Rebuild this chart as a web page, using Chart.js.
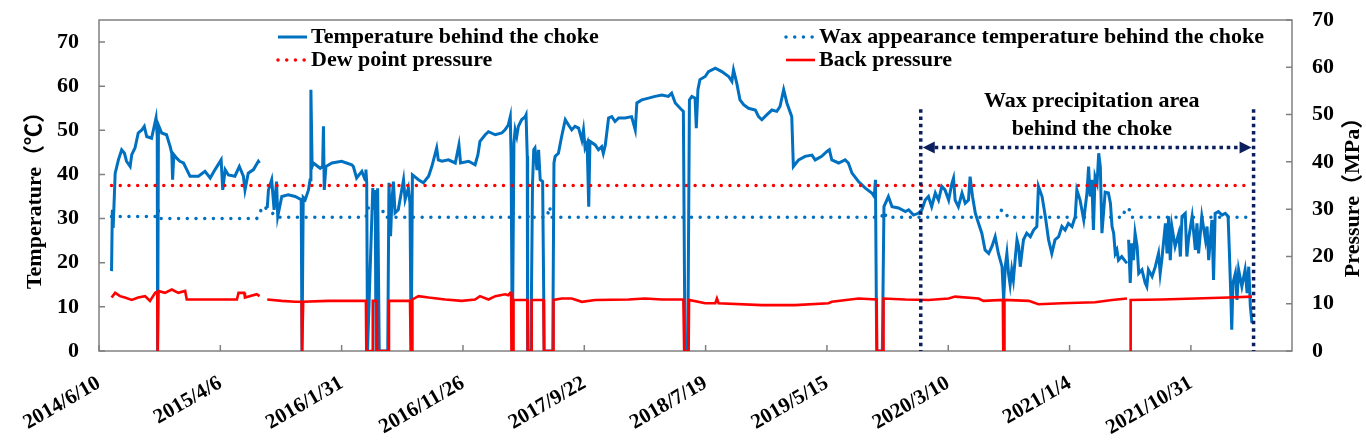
<!DOCTYPE html>
<html>
<head>
<meta charset="utf-8">
<script src="https://cdn.jsdelivr.net/npm/chart.js@4.4.0/dist/chart.umd.min.js"></script>
<style>
  html, body { margin: 0; padding: 0; background: #fff; }
  #wrap { width: 1366px; height: 448px; }
</style>
</head>
<body>
<div id="wrap"><canvas id="chart" width="1366" height="448"></canvas></div>
<script>
// x values are days after 2014/6/10 (start of the date axis)
const START = Date.UTC(2014, 5, 10);

const tempDays = [31,33,35,40,44,48,56,63,68,77,81,89,97,106,112,118,130,141,144,145,147,155,167,176,180,182,185,192,200,209,217,225,246,262,275,287,302,306,312,320,336,347,357,361,369,382,394,397,406,
  416,419,427,433,439,442,452,468,485,500,502,505,510,518,522,524,527,530,547,553,555,557,561,576,600,625,629,637,650,658,660,662,664,677,680,683,685,689,693,714,717,721,724,728,732,740,753,757,765,769,772,775,790,802,815,823,835,839,848,864,881,890,894,914,930,937,942,955,963,980,
  996,1004,1012,1017,1019,1022,1026,1029,1033,1037,1045,1054,1056,1059,1060,1068,1072,1075,1078,1083,1087,1091,1097,1101,1122,1125,1128,1136,1144,1153,1161,1169,1177,1186,1194,1198,1202,1207,1211,1214,1227,1235,1243,1247,1252,1260,1268,1276,1285,1301,1317,1326,1330,1342,1359,1375,1392,1408,1416,1425,1437,1445,1449,1456,1460,1466,1474,1477,1481,1486,1499,
  1507,1524,1540,1557,1565,1569,1577,1585,1594,1606,1623,1631,1639,1651,1664,1676,1684,1693,1701,1713,1717,1730,1746,1763,1771,1787,1800,1806,1812,1829,1845,1853,1862,1878,1895,1911,1917,1920,1923,1937,1941,1952,1961,1977,1994,
  2002,2014,2026,2035,2043,2051,2059,2068,2076,2084,2092,2101,2109,2113,2117,2125,2134,2142,2150,2154,2160,2167,2175,2183,2191,2200,2208,2216,2224,2233,2237,2241,2245,2249,2253,2257,2261,2266,2270,2274,2278,2286,2294,2303,2311,2319,2323,2332,2340,2348,2356,2364,2373,2381,2389,2397,2406,2414,2418,2426,2435,2443,2447,2451,2455,2459,2463,2468,2472,2476,2480,2488,
  2496,2501,2505,2509,2513,2517,2521,2529,2538,2542,2544,2546,2550,2554,2558,2562,2567,2571,2579,2587,2591,2595,2604,2612,2620,2624,2628,2637,2641,2645,2649,2653,2661,2670,2674,2678,2686,2690,2694,2703,2711,2715,2719,2727,2736,2740,2744,2752,2756,2760,2768,2777,2785,2792,2795,2799,2801,2804,2810,2814,2818,2826,2834,2839,2843,2847,2851];
const tempValues = [18.1,32.0,27.9,40.3,41.8,43.3,45.6,44.8,43.0,41.8,44.5,46.0,49.4,50.1,50.9,48.6,48.2,52.8,48.6,0,51.2,49.4,49.0,46.3,44.8,38.8,44.5,43.7,43.0,42.6,41.1,39.6,39.6,40.7,39.2,41.1,43.3,36.5,41.1,39.9,39.6,41.8,39.6,36.5,40.3,41.1,43.0,42.6,null,
  32.4,36.5,38.8,32.0,38.4,30.5,35.0,35.4,35.0,34.3,0,34.8,34.3,36.5,38.8,59.2,41.8,42.6,41.4,41.8,50.9,36.5,41.8,42.6,43.0,42.2,41.8,39.2,40.7,38.8,41.1,38.1,0,36.9,32.0,36.5,0,36.9,0,0,38.1,26.0,33.5,38.4,31.3,32.0,38.8,34.3,36.9,33.5,0,39.9,38.8,38.1,39.6,41.8,46.0,43.3,43.0,43.3,42.6,46.7,42.6,43.0,42.2,44.5,47.5,49.0,49.7,49.0,
  49.4,50.1,51.2,53.1,44.1,0,47.1,50.1,48.6,50.9,52.4,53.1,53.5,44.1,0,0,38.0,45.6,46.0,41.0,45.6,38.8,38.4,0,0,42.6,44.1,44.8,48.6,52.4,51.2,50.1,50.9,50.5,47.8,50.1,46.0,47.1,32.7,47.5,46.7,45.6,46.3,44.8,46.7,52.8,53.1,52.0,52.8,52.8,53.1,50.1,56.2,56.9,57.3,57.7,58.0,57.7,58.4,56.2,55.0,54.3,0,0,56.9,57.7,57.3,50.5,59.2,61.5,62.2,
  63.3,64.1,63.3,62.2,61.1,63.7,60.7,56.9,55.8,55.0,54.6,53.1,52.4,53.5,54.6,54.3,55.4,59.2,56.2,53.1,41.8,43.3,44.1,44.4,43.3,44.1,45.2,45.6,43.3,42.6,43.3,42.6,40.3,38.4,36.9,35.8,35.0,38.8,0,0,32.7,35.0,32.7,32.4,31.6,
  32.0,30.8,31.2,32.0,34.2,35.0,32.7,35.8,34.2,37.3,36.5,34.2,38.0,39.2,34.2,32.7,35.8,33.5,34.2,39.5,35.0,31.2,28.9,26.7,22.9,22.1,23.7,25.9,22.1,19.1,11.6,19.1,22.1,17.6,15.0,18.4,16.1,21.4,25.2,23.7,19.1,25.2,26.7,25.9,27.4,28.2,37.3,35.0,30.5,25.2,22.1,25.2,25.9,28.2,27.4,28.9,28.2,30.5,36.5,34.2,29.7,35.8,41.8,35.0,38.8,27.4,39.5,38.0,44.8,41.8,26.7,36.0,
  35.8,33.5,28.2,26.7,22.1,22.9,20.6,21.4,20.3,19.9,null,25.2,15.4,24.4,20.6,26.7,23.7,17.6,18.4,15.4,14.6,18.4,16.9,19.1,22.1,17.6,20.6,28.9,22.1,30.5,20.6,28.2,23.7,26.7,21.4,30.5,31.2,21.4,25.2,30.5,22.9,28.9,22.1,30.5,25.2,28.2,20.6,29.7,16.1,31.2,31.6,30.8,31.2,30.5,22.9,11.6,4.8,15.4,17.6,11.6,18.4,14.6,18.4,13.1,19.1,10.1,6.3];

const waxDays = [31,140,146,152,390,398,404,420,440,660,665,700,706,1015,1022,1030,1060,1066,1072,1108,1114,1120,1935,1941,1947,2225,2232,2242,2248,2532,2538,2548,2554,2851];
const waxValues = [30.5,30.5,32.0,30.0,30.0,31.3,32.8,32.0,30.3,30.3,32.4,32.4,30.3,30.3,31.6,30.3,30.3,31.0,30.3,30.3,32.7,30.3,30.3,31.6,30.3,30.3,32.0,31.2,30.3,30.3,32.4,32.0,30.3,30.3];

const dewDays = [31, 2851];
const dewValues = [35, 35];

const backDays = [31,40,52,64,81,97,114,126,139,144,145,147,163,180,196,213,217,279,341,345,359,361,390,397,406,
  416,452,485,501,502,505,567,660,661,676,677,687,688,716,717,769,771,774,775,790,815,856,897,930,942,963,980,1004,1012,1017,1019,1020,1024,1025,1059,1060,1069,1070,1099,1100,1123,1124,1144,1169,1194,1227,1309,1350,1392,1445,1447,1458,1459,1499,
  1524,1528,1532,1639,1721,1804,1812,1878,1923,1924,1939,1940,1994,2051,2101,2117,2175,2187,2235,2236,2238,2239,2299,2323,2381,2463,2505,2542,2546,2550,2551,2628,2711,2793,2851];
const backValues = [11.3,12.3,11.6,11.3,10.8,11.3,11.6,10.6,12.3,12.5,0,12.7,12.3,13.0,12.3,12.7,10.9,10.9,10.9,12.3,12.3,11.3,12.0,11.6,null,
  10.9,10.6,10.4,10.4,0,10.4,10.6,10.6,0,0,10.6,10.6,0,0,10.6,10.6,0,0,10.9,11.6,11.3,10.9,10.6,10.9,11.6,10.9,11.6,12.0,11.8,12.3,12.3,0,0,10.8,10.8,0,0,10.8,10.8,0,0,10.8,11.1,11.1,10.4,10.8,10.9,11.1,10.9,10.9,0,0,10.8,10.1,
  10.1,11.1,10.1,9.7,9.7,10.1,10.4,11.1,10.9,0,0,11.1,10.9,10.8,11.1,11.5,11.1,10.6,10.8,0,0,10.8,10.6,9.9,10.1,10.3,10.8,11.1,null,0,10.8,10.9,11.1,11.3,11.5];

const xTickStep = 300;
const xMax = 2950;
const tempMax = 75;
const pressMax = 70;

// wax precipitation zone, in axis units (days / ℃)
const waxZone = { from: 2032, to: 2855, top: 54.8, arrow: 46.1, labelX: 2455, label1: 56.5, label2: 50.3 };

const FONT = '"Liberation Serif", "Noto Sans CJK SC", serif';
const BLUE = '#0070C0';
const RED = '#FF0000';
const NAVY = '#0B1F5E';
const FRAME = '#808080';

function pts(xs, ys) {
  return xs.map((x, i) => ({ x: x, y: ys[i] }));
}

function dayLabel(d) {
  const dt = new Date(START + d * 86400000);
  return dt.getUTCFullYear() + '/' + (dt.getUTCMonth() + 1) + '/' + dt.getUTCDate();
}

Chart.defaults.font.family = FONT;
Chart.defaults.font.size = 22;
Chart.defaults.font.weight = 'bold';
Chart.defaults.color = '#000';

// frame around the plot and inside tick marks
const framePlugin = {
  id: 'frame',
  beforeDatasetsDraw(chart) {
    const { ctx, chartArea: a, scales } = chart;
    ctx.save();
    ctx.strokeStyle = FRAME;
    ctx.lineWidth = 1.5;
    ctx.strokeRect(a.left, a.top, a.right - a.left, a.bottom - a.top);
    ctx.beginPath();
    scales.x.ticks.forEach(t => {
      const px = scales.x.getPixelForValue(t.value);
      ctx.moveTo(px, a.bottom); ctx.lineTo(px, a.bottom - 6);
    });
    scales.y.ticks.forEach(t => {
      const py = scales.y.getPixelForValue(t.value);
      ctx.moveTo(a.left, py); ctx.lineTo(a.left + 6, py);
    });
    scales.y1.ticks.forEach(t => {
      const py = scales.y1.getPixelForValue(t.value);
      ctx.moveTo(a.right, py); ctx.lineTo(a.right - 6, py);
    });
    ctx.stroke();
    ctx.restore();
  }
};

const zonePlugin = {
  id: 'zone',
  afterDatasetsDraw(chart) {
    const { ctx, scales } = chart;
    const x1 = scales.x.getPixelForValue(waxZone.from);
    const x2 = scales.x.getPixelForValue(waxZone.to);
    const yTop = scales.y.getPixelForValue(waxZone.top);
    const yBot = scales.y.getPixelForValue(0);
    const yArr = scales.y.getPixelForValue(waxZone.arrow);
    ctx.save();
    ctx.strokeStyle = NAVY;
    ctx.fillStyle = NAVY;
    ctx.lineWidth = 3.5;
    ctx.setLineDash([3.5, 3.8]);
    ctx.beginPath();
    ctx.moveTo(x1, yTop); ctx.lineTo(x1, yBot);
    ctx.moveTo(x2, yTop); ctx.lineTo(x2, yBot);
    ctx.moveTo(x1 + 14, yArr); ctx.lineTo(x2 - 14, yArr);
    ctx.stroke();
    ctx.setLineDash([]);
    ctx.beginPath();
    ctx.moveTo(x1 + 2, yArr); ctx.lineTo(x1 + 14, yArr - 6); ctx.lineTo(x1 + 14, yArr + 6); ctx.closePath();
    ctx.moveTo(x2 - 2, yArr); ctx.lineTo(x2 - 14, yArr - 6); ctx.lineTo(x2 - 14, yArr + 6); ctx.closePath();
    ctx.fill();
    ctx.fillStyle = '#000';
    ctx.font = 'bold 22px ' + FONT;
    ctx.textAlign = 'center';
    ctx.textBaseline = 'middle';
    const lx = scales.x.getPixelForValue(waxZone.labelX);
    ctx.fillText('Wax precipitation area', lx, scales.y.getPixelForValue(waxZone.label1));
    ctx.fillText('behind the choke', lx, scales.y.getPixelForValue(waxZone.label2));
    ctx.restore();
  }
};

// two-column legend inside the plot, plus the axis titles
const legendPlugin = {
  id: 'legend2',
  afterDraw(chart) {
    const { ctx } = chart;
    const cols = [277, 785];
    const rows = [37, 60];
    ctx.save();
    chart.data.datasets.forEach((ds, i) => {
      const x0 = cols[i % 2];
      const y0 = rows[Math.floor(i / 2)];
      ctx.strokeStyle = ds.borderColor;
      ctx.lineWidth = ds.borderWidth;
      ctx.lineCap = ds.borderCapStyle || 'butt';
      ctx.setLineDash(ds.borderDash || []);
      ctx.beginPath();
      ctx.moveTo(x0 + 1, y0); ctx.lineTo(x0 + 30, y0);
      ctx.stroke();
      ctx.setLineDash([]);
      ctx.fillStyle = '#000';
      ctx.font = 'bold 22px ' + FONT;
      ctx.textAlign = 'left';
      ctx.textBaseline = 'middle';
      ctx.fillText(ds.label, x0 + 34, y0);
    });
    ctx.font = 'bold 22px ' + FONT;
    ctx.textAlign = 'center';
    ctx.textBaseline = 'middle';
    ctx.translate(35, 195);
    ctx.rotate(-Math.PI / 2);
    ctx.fillText('Temperature（℃）', 0, 0);
    ctx.setTransform(1, 0, 0, 1, 0, 0);
    ctx.translate(1353, 192);
    ctx.rotate(-Math.PI / 2);
    ctx.fillText('Pressure（MPa）', 0, 0);
    ctx.restore();
  }
};

function noPad(s) {
  s.paddingTop = 0; s.paddingBottom = 0; s.paddingLeft = 0; s.paddingRight = 0;
}

new Chart(document.getElementById('chart'), {
  type: 'line',
  data: {
    datasets: [
      {
        label: 'Temperature behind the choke',
        data: pts(tempDays, tempValues),
        yAxisID: 'y',
        borderColor: BLUE,
        borderWidth: 3,
        order: 3
      },
      {
        label: 'Wax appearance temperature behind the choke',
        data: pts(waxDays, waxValues),
        yAxisID: 'y',
        borderColor: BLUE,
        borderWidth: 3.5,
        borderDash: [0.01, 8.7],
        borderCapStyle: 'round',
        order: 1
      },
      {
        label: 'Dew point pressure',
        data: pts(dewDays, dewValues),
        yAxisID: 'y1',
        borderColor: RED,
        borderWidth: 3.5,
        borderDash: [0.01, 8.7],
        borderCapStyle: 'round',
        order: 0
      },
      {
        label: 'Back pressure',
        data: pts(backDays, backValues),
        yAxisID: 'y1',
        borderColor: RED,
        borderWidth: 2.6,
        order: 2
      }
    ]
  },
  options: {
    responsive: false,
    animation: false,
    devicePixelRatio: 1,
    spanGaps: false,
    elements: { point: { radius: 0 }, line: { tension: 0 } },
    layout: { padding: { top: 20, left: 0, right: 0, bottom: 0 } },
    plugins: { legend: { display: false }, tooltip: { enabled: false } },
    scales: {
      x: {
        type: 'linear',
        min: 0,
        max: xMax,
        grid: { display: false, drawTicks: false },
        border: { display: false },
        ticks: {
          minRotation: 30,
          maxRotation: 30,
          padding: 20,
          font: { size: 21 },
          callback: v => dayLabel(v)
        },
        afterBuildTicks: s => {
          const t = [];
          for (let v = 0; v <= xMax; v += xTickStep) t.push({ value: v });
          s.ticks = t;
        },
        afterFit: s => { s.height = 97; noPad(s); }
      },
      y: {
        position: 'left',
        min: 0,
        max: tempMax,
        grid: { display: false, drawTicks: false },
        border: { display: false },
        ticks: { stepSize: 10, includeBounds: false, padding: 20 },
        afterFit: s => { s.width = 99; noPad(s); }
      },
      y1: {
        position: 'right',
        min: 0,
        max: pressMax,
        grid: { display: false, drawTicks: false },
        border: { display: false },
        ticks: { stepSize: 10, includeBounds: false, padding: 20 },
        afterFit: s => { s.width = 74; noPad(s); }
      }
    }
  },
  plugins: [framePlugin, zonePlugin, legendPlugin]
});
</script>
</body>
</html>
